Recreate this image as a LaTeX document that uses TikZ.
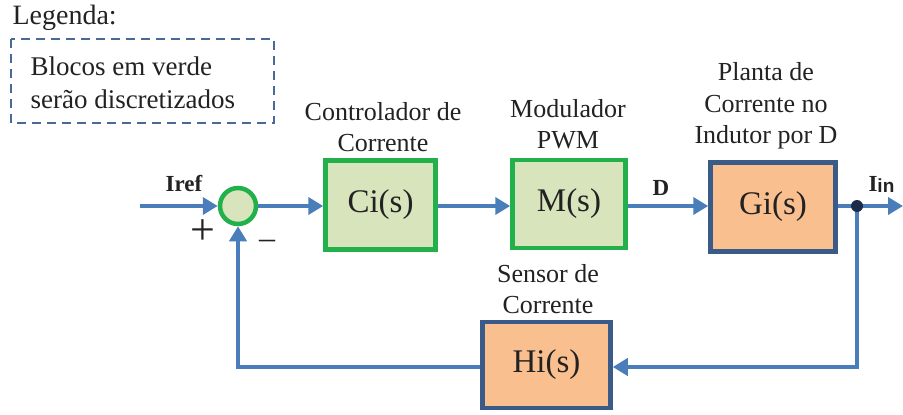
\documentclass[tikz,border=0pt]{standalone}
\usepackage{fontspec}
\setmainfont{Liberation Serif}
\newfontfamily\labsans{Liberation Sans}
\usetikzlibrary{arrows.meta,calc}
\definecolor{wire}{HTML}{4A7EBB}
\definecolor{grnedge}{HTML}{22B04B}
\definecolor{grnfill}{HTML}{D8E4BC}
\definecolor{orgfill}{HTML}{FABF8F}
\definecolor{navyedge}{HTML}{3A5B88}
\definecolor{legedge}{HTML}{4A6A96}
\definecolor{dotc}{HTML}{1C2C48}
\definecolor{txt}{HTML}{222222}
\tikzset{
  wireline/.style={draw=wire,line width=4pt},
  arr/.style={wireline,-{Triangle[length=15pt,width=17pt]}},
  digblock/.style={draw=grnedge,fill=grnfill,line width=4.5pt,inner sep=0pt,
    font=\fontsize{33}{35}\selectfont,text=txt},
  plantblock/.style={draw=navyedge,fill=orgfill,line width=4.5pt,inner sep=0pt,
    font=\fontsize{33}{35}\selectfont,text=txt},
  caption/.style={align=center,font=\fontsize{26}{31.5}\selectfont,text=txt},
  siglabel/.style={font=\bfseries\fontsize{23}{24}\selectfont,text=txt}
}
\begin{document}
\begin{tikzpicture}[x=1pt,y=-1pt]
\useasboundingbox (0,0) rectangle (903,415);
% legend
\node[anchor=west,font=\fontsize{28}{30}\selectfont,text=txt] (legtitle) at (9,18) {Legenda:};
\draw[legedge,line width=2pt,dash pattern=on 9pt off 6pt] (11,39) rectangle (274,123);
\node[anchor=west,align=left,font=\fontsize{27}{33}\selectfont,text=txt] (legtext) at (27,83) {Blocos em verde\\serão discretizados};
% summing junction
\node[circle,draw=grnedge,fill=grnfill,line width=4.5pt,minimum size=36pt,inner sep=0pt] (sum) at (238,206) {};
% blocks
\node[digblock,minimum width=110pt,minimum height=89pt] (ci) at (380.5,205) {Ci(s)};
\node[digblock,minimum width=113pt,minimum height=88pt] (m) at (569,204) {M(s)};
\node[plantblock,minimum width=125pt,minimum height=89pt] (gi) at (773,207) {Gi(s)};
\node[plantblock,minimum width=128pt,minimum height=86pt] (hi) at (546.5,365) {Hi(s)};
% block captions
\node[caption] (cicap) at (383,127) {Controlador de\\Corrente};
\node[caption] (mcap) at (568,124) {Modulador\\PWM};
\node[caption] (gicap) at (766,106) {Planta de\\Corrente no\\Indutor por D};
\node[caption] (hicap) at (548,289) {Sensor de\\Corrente};
% signal path
\coordinate (in) at (140,206);
\coordinate (out) at (903,206);
\coordinate (tap) at (857,206);
\draw[arr] (in) -- (sum.west);
\draw[arr] (sum.east) -- (ci.west |- sum.east);
\draw[arr] (ci.east |- sum.east) -- (m.west |- sum.east);
\draw[arr] (m.east |- sum.east) -- (gi.west |- sum.east);
\draw[arr] (gi.east |- sum.east) -- (out);
\draw[arr] (tap) |- (hi.east |- 0,367);
\draw[arr] (hi.west |- 0,367) -| (sum.south);
\fill[dotc] (tap) circle (6pt);
% signal labels
\node[siglabel] (iref) at (184,184) {Iref};
\node[siglabel] (dlab) at (661,188) {D};
\node[siglabel,anchor=west] (iin) at (865,184) {I\raisebox{-1pt}{\labsans\fontsize{19}{20}\selectfont in}};
\node[font=\fontsize{44}{44}\selectfont,text=txt] (plus) at (203,232) {+};
\node[font=\fontsize{32}{32}\selectfont,text=txt] (minus) at (267,244) {–};
\end{tikzpicture}
\end{document}
